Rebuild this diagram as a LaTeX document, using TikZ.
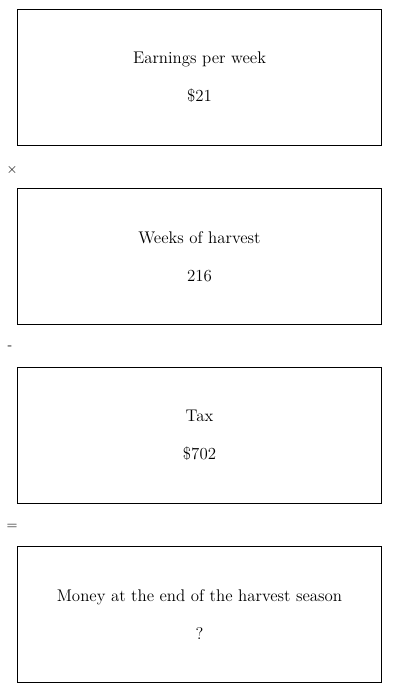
\documentclass[tikz,border=0pt]{standalone}
\usepackage{tikz}
\usetikzlibrary{positioning}

\begin{document}
\begin{tikzpicture}[x=0.025cm, y=-0.025cm,
    quantity/.style={draw, line width=0.7pt, minimum width=9.075cm, minimum height=3.375cm,
                     inner sep=0pt, align=center, font=\large},
    oper/.style={inner sep=0pt, font=\normalsize}]
    % Fix the size of the page
    \useasboundingbox (0,0) rectangle (400,693);

    % The four boxes of the calculation
    \node[quantity] (earn) at (199.5,77.5) {Earnings per week\\[13pt]\$21};
    \node[quantity] (weeks) at (199.5,256.5) {Weeks of harvest\\[13pt]216};
    \node[quantity] (tax) at (199.5,435.5) {Tax\\[13pt]\$702};
    \node[quantity] (money) at (199.5,614.5) {Money at the end of the harvest season\\[13pt]?};

    % The operators between the boxes
    \node[oper] (times) at (12,170) {$\times$};
    \node[oper] (minus) at (10,348) {-};
    \node[oper] (equals) at (12,527) {=};
\end{tikzpicture}
\end{document}
